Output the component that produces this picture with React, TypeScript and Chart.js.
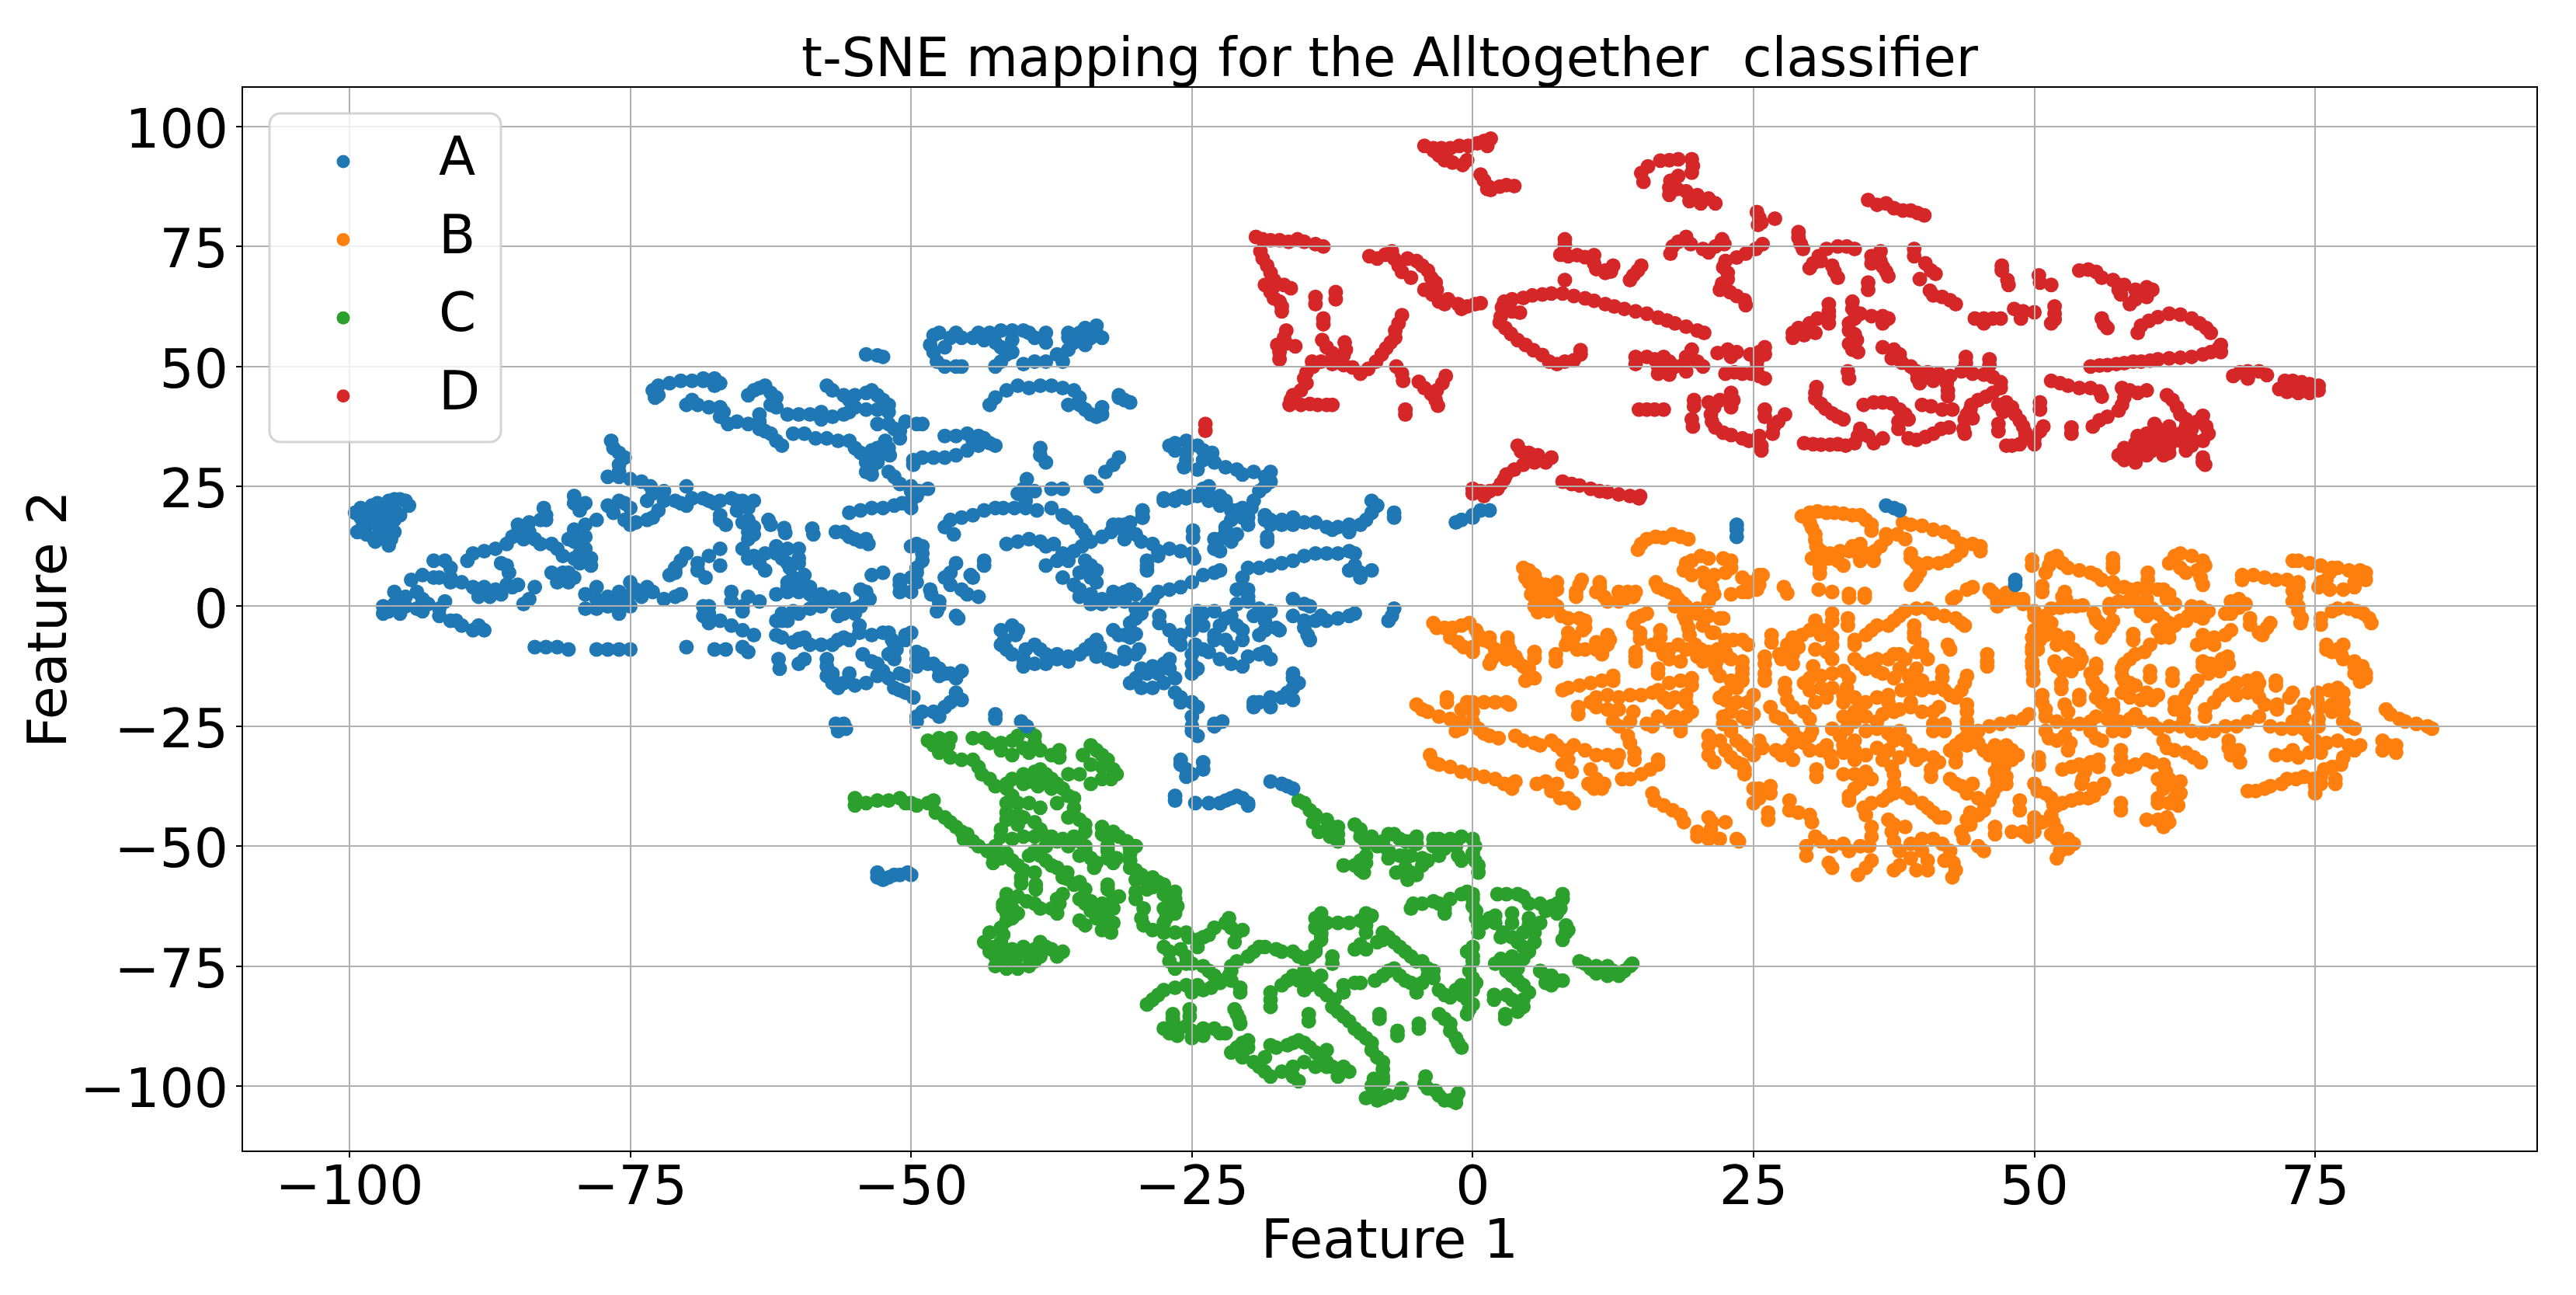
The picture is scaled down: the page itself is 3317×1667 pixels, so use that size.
import { useEffect, useRef } from "react";
import { Chart, registerables } from "chart.js";

Chart.register(...registerables);

const seriesNames = ["A", "B", "C", "D"];
const seriesColors = ["#1f77b4", "#ff7f0e", "#2ca02c", "#d62728"];
const xTickValues = [-100, -75, -50, -25, 0, 25, 50, 75];
const yTickValues = [-100, -75, -50, -25, 0, 25, 50, 75, 100];

const pointsA = [
  [-97.5,21.5],[-96.5,22],[-96,22.3],[-95.5,22.3],[-95,22],[-94.7,21],[-95.5,19],[-99,20.5],[-99.5,19.5],[-98.5,20],[-98,19],[-99,18.5],[-98,17.5],[-97,18.5],[-96.5,19.5],[-96.7,17],[-97.3,15.5],[-96,15.5],[-99.3,15.5],[-98.5,15],[-96.3,14],[-96.5,12.7],[-97.8,14],[-97.7,13.5],
  [-98.5,18],[-97.5,17],[-97,20],[-96,20.5],[-98,21],[-97,14.5],[-98.8,16.8],[-96,18],
  [-76.7,34.5],[-76.5,33],[-76,32],[-75.5,31],[-76,29.5],[-76,28],[-77,27],[-76,27],[-75,26.5],[-74,26],[-73.2,25],
  [-72.8,43.5],[-73,45],[-72.5,46],[-71.5,46.5],[-70.5,47],[-69.5,47],[-68.5,47.5],[-67.5,47.5],[-67,46.5],[-67.5,46],[-68.5,47],[-72.5,44],
  [-70,42],[-69.5,43],[-69,42],[-68,41.5],[-67,41.5],[-66.7,40.5],[-67,39.5],[-66.3,38],
  [-65.5,38.5],[-64.5,38],[-63.5,37],[-63,36.5],[-62,34.5],[-61.5,33.5],[-62.5,36],
  [-64.5,44],[-64,45],[-63.5,45.5],[-63,46],[-62.5,44.5],[-62,43.5],
  [-63.5,40],[-62.5,42],[-62,41.5],[-61,40],[-60,40],[-59,40],[-58,40.5],[-63.5,38.5],
  [-60.5,36],[-59.5,36],[-58.5,35],[-57.5,35],[-56.5,34.5],[-55.5,34.5],[-55,33],[-54.5,32],[-53.5,32.5],[-53,31],[-54,30],[-53.5,29],[-53,30],[-52.5,33],[-52.3,34.5],[-53,33],[-54,28],[-53.5,27.5],
  [-57.5,46],[-57,45],[-56,44],[-55.5,43],
  [-55,44],[-54,44.5],[-53.5,45],[-53,44],[-52.5,43],[-52,42],[-52,40.5],[-53,41],[-54,41],[-55,41.5],[-55.5,40.5],[-56,40],[-57,39.5],[-58,39],[-53,38],[-52,38],[-51.5,37],[-51,36.5],[-51,35],
  [-50.5,38.5],[-49.5,38],[-49,38],[-52,33],[-51.9,31.5],
  [-49.8,29.5],[-49.8,30.5],[-49,31],[-48,31],[-47,31],[-46,31.5],[-45,32.5],[-44.5,34.5],[-43.5,35],[-43,34],[-42.5,33.5],[-44,33.5],
  [-52,28],[-51.5,27],[-51,25.5],[-50,25],[-49.5,24],[-48.5,24.5],
  [-48,56.5],[-47.5,57],[-46.5,56],[-45.5,56],[-44.5,56],[-43.5,55.5],[-43,57],[-42,57.5],[-41,57.5],[-40,57.5],[-48.3,54.5],[-48,53],[-47.7,51],[-47,50],[-46,50],[-45.5,50],[-42.5,50],[-42,51],[-41.5,52.5],[-42,54],[-42.5,55],
  [-44,57],[-46,57],[-47,54],[-41,55.5],[-41,53],[-38,57],[-36,56],
  [-54,52.5],[-53,52.3],[-52.5,52],
  [-43,42],[-42.5,43.5],[-41.5,45],[-40.5,46],[-39.5,45.5],[-38.5,46],[-37.5,46],[-36.5,45.5],[-35.5,45],[-35,43.5],
  [-33.5,58.5],[-34.5,58],[-35,57],[-35.5,55],[-36,53.5],[-37,52.5],[-36.5,51],[-33.5,57],[-38,51],[-39,51],[-40,50.5],[-39.5,57],[-39,56],[-38,55],[-33,56],
  [-34,56],[-34.5,54.5],[-36,57],
  [-36,42],[-35,42],[-34.5,41],[-34,40],[-33.5,39.5],[-33,40],[-31.5,44],[-31,43],[-30.5,42.5],[-33,41.5],[-31.5,43.5],
  [-38.5,33],[-38.5,31.5],[-38,30],[-47,35.5],[-46,35.5],[-45,36],[-44,35.5],
  [-27,33.5],[-26.5,34],[-25.5,34.5],[-24.5,33.5],[-24,32.5],[-23.2,32],[-26.5,32.5],[-25.5,32],
  [-25.5,30.5],[-24,30.5],[-23,30],[-22,29],[-21,28.5],[-20.5,27.5],[-19.5,28],[-25.7,29],[-24.5,28.5],
  [-18.5,27],[-18,28],[-18,26],[-18.5,25],[-19,24],[-19.5,22],[-19.7,20.5],
  [-31.5,31],[-32,29.5],[-32.7,28],[-34,26],[-33.5,25],
  [-27.5,22],[-26.5,22],[-25.5,22.5],[-24.5,23],[-24,24.5],[-23.5,25],
  [-22.5,23],[-22,21.5],[-21.5,20],[-21,19],[-20.5,20.5],[-20,18.5],
  [-18.5,19],[-18,18],[-17,18],[-16,18.5],[-15,17.5],[-14,17.5],[-13,16.5],[-12,16.5],[-11,17],[-11,15.5],
  [-9,22],[-8.5,21],[-9,19.5],[-9.5,18],[-10,17],[-7,19.5],[-7,18.5],
  [-1.5,17.5],[-1,18],[0,18.5],[0.7,20],[1.5,20],[0,19],[-29.4,20],[-29.4,18.5],[-32,17],[-31,17],[-31,15.5],
  [-55.5,19.5],[-54.5,20],[-53.5,20.5],[-52.5,20.5],[-51.5,21],[-50.8,21.5],[-50,22],[-49.5,23],[-49.3,24],[-50,24],[-50,20.5],
  [-47,16.5],[-46.5,18],[-45.5,18.5],[-44.5,19],[-43.5,20],[-42.5,20.5],[-46.2,15],
  [-41.8,20.5],[-40.8,20.5],[-39.8,20.5],[-38.8,20],[-39.8,22],[-40.5,23.5],[-40,24.5],[-39.7,26.5],[-39,24],
  [-37.5,24.5],[-36.5,24.5],[-37.5,20.5],[-36.5,19],[-36.2,18.5],[-35.3,17.5],[-34.8,16],[-34.5,15],[-29.4,19.8],[-29.4,18.5],
  [-41.5,13],[-40.5,13.5],[-39.5,14],[-38.5,13.5],[-38,12.5],[-37.3,13],
  [-38,8.5],[-37,9.5],[-36,9.5],[-36.5,11],[-35.5,11.5],[-34.8,12.5],[-34,13.5],[-33,14.5],[-32.2,15.5],[-31,16.5],[-31.5,17],[-30.5,17.5],[-31,14],[-30,15],[-29.5,13.5],[-28.5,13],[-28,11.5],[-27,12],[-26,11.5],[-25,11],[-24.8,10],[-28,10.5],[-29,9.5],[-29,8.5],[-29,7.5],
  [-34.5,9.5],[-34,8.5],[-33.5,7.5],
  [-36.5,6],[-35,7],[-34,6],[-33.5,5],[-35.5,4.5],[-35,3.5],[-35,2],[-34,2.5],[-33,1.5],[-32,3],[-31,3],[-30.5,3.5],[-30,2.5],[-34,0.5],[-33,0.5],[-32,1],[-31,1],
  [-29,0.5],[-28.5,1.5],[-28,3],[-27,3.5],[-26,4],[-25,5],[-24,6.5],[-23,7],[-22.5,7.5],[-30,-0.5],
  [-30.5,-3.5],[-30,-2.5],[-29.5,-1.5],[-27.9,-2],[-27.9,-3.5],
  [-27,-5],[-26.5,-7],[-26,-6],[-26,-8],[-25,-3],[-25,-5],[-24.5,-1],[-24,-1.5],[-24,-4],[-24.7,-8],[-24,-9],[-23.5,-9.5],[-23,-7],[-23,-6],
  [-25,-10],[-25,-12],[-25,-14],[-24.5,-13],
  [-27,-11],[-27.5,-12],[-27,-13],[-28,-14],[-29,-14],[-30,-15],[-30.5,-16],[-29.5,-17],[-28.5,-17],[-27.5,-16],[-26.5,-15],[-29.5,-13],[-28.5,-12.5],
  [-22.5,-11],[-21.5,-12],[-20.5,-12.5],[-20,-10.5],[-19,-10],[-18.5,-9.5],[-18,-11],
  [-21,3.5],[-20,3.5],[-20,2],[-20,1],[-21,0.5],[-21.5,-2],[-21,-4],[-20.5,-5],[-20.5,-7],[-19.5,-2],[-19,-0.5],[-18.5,-3],[-19,-6],[-18.5,-5],[-18,-1],[-22,-2.5],[-22.5,-4],[-23,-1],[-22,-7],[-21.5,-8.5],[-17.5,-4.5],
  [-16,1.5],[-15,0.5],[-14.5,0],[-16,-2],[-15,-3],[-14,-3],[-13.5,-2],[-15,-4.5],[-13,-3],[-12,-2.5],[-11,-2],[-10.5,-1.5],[-14.7,-6],[-14.5,-7],[-17.2,-5],
  [-7,-0.5],[-7.2,-2],[-7.5,-3],
  [-20.5,6],[-20,8],[-19,8],[-18,8.5],[-17,9],[-16,9.5],[-15,10.5],[-14,11],[-13,11],[-12,11],[-11,11.5],[-10.5,11],
  [-18.5,18],[-18,17],[-17,17],[-16,17],[-12.5,16],[-11,16],
  [-11,7.5],[-10.5,8.5],[-10,7],[-9,7.5],[-10,6],
  [-22.5,21],[-22,22],[-21,20],[-20.5,18.5],[-20,17],[-21.5,18],[-22,16.5],[-22,15.5],[-22.5,14],[-21.5,13.5],[-23,14],[-21,15],[-23,12],[-22.5,11.5],
  [-24.9,15.8],[-24.9,14.3],[-18.3,14.5],[-18.3,13.5],
  [-27.5,22.5],[-26.5,22.5],[-26,23],[-25,23],[-24,24],[-23.5,23],[-23.5,22],
  [-50,12.5],[-49.5,13],[-49,12.5],[-49,11],[-49,9.5],[-49.5,8],[-49.5,7],[-50,6],[-51,5.5],[-51,4.5],[-51,3],[-50,3],[-49.5,5],
  [-53.5,6.5],[-52.5,7],[-48.3,3.5],[-48.2,2.5],[-47.5,1],[-47.5,0],[-47.7,-1],[-46,-2],[-45.8,-2.5],
  [-46,9],[-46.5,7],[-47,6],[-46.5,4.5],[-45.5,3.5],[-45,2.5],[-44,2],[-44.7,6.5],[-44.5,6],[-43.5,9.5],[-43.5,8.5],
  [-54.5,3.5],[-54,2.5],[-53.7,1.5],
  [-61,5],[-60.5,6],[-60,5.5],[-61,4],[-60,3],[-59,2.5],[-58.5,1.5],[-58,0.5],[-57,1],[-56,0],[-56,1.5],[-55,-0.5],[-56,-1.5],[-56.5,-2],[-55,-1.5],[-59,-0.5],[-60,-1.5],[-61.5,-1.5],[-61.5,-3],
  [-56.7,15.5],[-56,15.5],[-55.5,14.5],[-55,14],[-54.5,13.5],[-54,14],[-53.8,13],[-61.3,16.3],[-61.2,15.3],[-58.8,16.2],[-58.7,15],
  [-62,12.5],[-61.5,11.5],[-61.5,10],[-61,9],[-60.8,8],
  [-54.6,-4],[-54.6,-5.5],[-61.5,-6.5],[-60.5,-7.5],[-60,-6.8],[-59.5,-6.5],[-57,-8],[-56.5,-7],[-56,-6.5],[-55.5,-7],
  [-61.8,-11],[-61.7,-13],[-59.5,-11],[-60,-12],
  [-53.5,-6],[-52.5,-5.5],[-52,-5.5],[-51.7,-7],[-51.5,-8],[-51.3,-9],[-50.5,-7],[-50,-5.5],[-50.5,-6],[-52,-10],[-51.5,-11],
  [-57.5,-11],[-57.5,-12.5],[-57,-14],[-57,-15],[-57.5,-14.5],[-57,-16],[-56.5,-17],[-56,-16],[-55,-16.5],[-54,-16],[-55.5,-14],
  [-54.3,-10],[-53.5,-11.5],[-53,-12],[-52.5,-13.5],[-53,-14.5],[-52,-15],[-51,-14],[-50.5,-14.5],
  [-51.5,-17],[-51,-17.5],[-50.5,-18],[-49.8,-19],
  [-49.5,-9.5],[-49.5,-11],[-49,-10],[-48.5,-12],[-49.5,-12.5],[-48,-12],[-47.5,-13],[-47,-14],[-47.5,-14.5],[-46.5,-14],[-45.5,-13.5],[-46,-15],
  [-49.5,-24],[-49.5,-23],[-49,-22],[-48,-22],[-47.5,-23],[-47,-21],[-46.5,-20],[-45.5,-19.5],[-46,-19],[-46,-18],
  [-56.7,-24.5],[-56,-24.5],[-55.8,-25.5],[-56.5,-26],[-42.5,-22.5],[-42.5,-23.5],[-40.2,-24],[-39.7,-25],
  [-42,-5],[-41,-4],[-40.5,-5],[-40.7,-6],[-41.7,-7],[-42,-8],[-41.5,-9],[-41,-10],[-40,-11],[-39.8,-9],[-39,-8],[-38.5,-9],[-38,-10],[-37,-11],[-37,-10],[-36,-10.5],[-35,-10],[-34.5,-9],[-34,-8],[-33.5,-7],[-33.2,-8.5],[-33.5,-10.5],[-32.5,-11],[-32,-11.5],[-31,-11],[-31,-9.5],[-30,-10],[-29.7,-9],[-36,-11.5],[-39,-12],[-40,-12.5],[-38,-12],
  [-32,-5],[-31.5,-6],[-31,-6],[-30.5,-6.5],[-30,-5.8],
  [-16,-14],[-16,-15],[-15.5,-16],[-16,-17],[-16.5,-18],[-17,-19],[-18,-19],[-19,-20],[-19.5,-21],[-19.5,-20],[-18,-21],[-16,-19.5],
  [-26.5,-18],[-26,-19],[-26,-20],[-25,-20],[-24.5,-21],[-25,-23],[-25,-25],[-25,-26],[-24.5,-27],[-23,-25],[-23,-24.5],[-22.3,-24],
  [-26,-32],[-26,-33],[-25.5,-34],[-25,-35],[-24,-32.5],[-24,-34],[-25.5,-35.5],
  [-26.5,-39.5],[-26.5,-40.5],[-24.7,-41],[-23.5,-41],[-22.5,-41],[-22,-40.5],[-21.5,-40],[-21,-39.5],[-20.5,-40],[-20,-41],[-20,-41.5],
  [-18,-36.5],[-17,-37],[-16.5,-37.5],[-16,-38],
  [-53,-56.5],[-52,-56.5],[-51,-56],[-50,-56],[-52.5,-57],[-51.5,-56],[-53,-55.5],[-50.3,-55.5],
  [36.8,21],[37.5,20.5],[38,20],[23.5,17],[23.5,16],[23.5,14.5],[48.3,5.5],[48.3,4.5],
  [-80,23],[-80,21.5],[-79,21.5],[-79.5,20],
  [-77,21],[-76,22],[-75.5,21.5],[-75,20.5],[-76.5,19.5],[-75.5,18],[-75,17],[-74.5,17.5],
  [-73.5,22],[-73,23.5],[-72,24],[-72,22],[-71,22],[-72.5,20],[-73,18.5],[-73.5,18],[-70.5,21.5],
  [-70,25],[-69.5,22.5],[-70,21],[-68.5,22.5],[-68,22],[-67.5,21.5],[-67,22],[-66,22.5],[-65.5,22],[-65,22],[-64,22],[-64.5,20.5],[-65.5,20],[-67,19],[-67,18],[-66.5,17],[-65,17.5],[-64.5,18],[-64.5,15.5],[-64,16.5],
  [-62.7,18],[-62.5,17],
  [-89.5,9.5],[-89,11],[-88,11.5],[-87,12],[-86,13],[-85.5,14.5],[-84.5,14],[-85,15.5],[-85,17],[-84,17.5],[-83,18],[-82.5,19],[-82.5,18],[-82.7,20.5],
  [-84,15.5],[-83.5,14],[-83,13],[-82,13],[-81.5,12],[-81,10.5],[-80,10],[-79.5,11],[-79,12],[-80.5,14],[-80,13.5],[-79.5,9],[-78.5,10],
  [-80,16],[-80,15],[-79,17],[-78,18],[-79,14.5],[-78.8,9.5],[-78.5,8.5],
  [-82,7],[-81.5,6],[-81,7],[-80.5,7],[-80,6],[-81.5,5],[-80.5,5],[-85.8,7],[-86,8.5],[-86.5,9],
  [-92.5,9.5],[-91.5,9.5],[-91,8],[-91,6],[-91,5],[-94.5,5.5],[-93.5,6.5],[-92.5,6],[-92,6],
  [-90,5],[-89,4],[-88,4],[-87,3.5],[-86,4.5],[-85.5,4],[-86.5,2.5],[-87.5,2],[-88.5,2],[-85,4.5],[-83.5,4],[-84,1.5],[-84.5,0.5],
  [-79,2.5],[-78,4],[-78,1.5],[-77,2],[-76,3],[-76,1],[-75,2.5],[-75,5],[-74.5,3.5],[-74,2],[-73.5,4],[-77,0],[-75,0],[-78,-0.5],[-76,-1.5],[-79,-0.5],[-73,3],
  [-72,1.5],[-71,2],[-70.5,2.5],
  [-70,11],[-70.5,9.5],[-71,8],[-71,7],[-71.5,6.5],
  [-67,12],[-68,10.5],[-69,9],[-69,7.5],[-67,8.5],[-68.3,6],
  [-65,12],[-64.5,14],[-64,15],[-64.5,10],[-64,10.5],[-63,11],[-62,11],[-61,12],[-60,12],[-60,10],[-60,9],[-63.5,9],[-63,7.5],
  [-66,3],[-66,1],[-65,0],[-65,-1],[-64.5,2],[-63.5,1],[-68,0],[-68,-1.5],
  [-62,2.5],[-61,3],[-60.5,4],[-60,5],[-59.5,6.5],[-59,4],[-58,2.5],[-57,2],[-54.5,0],[-58,0],[-54,3],[-54,1.5],
  [-97,0],[-96.5,-1],[-96,0.5],[-95.5,-1.5],[-95,0],[-94,-0.5],[-93.5,-1],[-93.5,1.5],[-95,2],[-96,3],[-94,3],[-93,0.5],[-92,-2],[-91,-3],[-90.5,-3],[-90,-4],[-89,-5],[-88,-5],[-88.5,-4],[-91.5,1],[-92,-0.5],[-97,-1.5],
  [-83.5,-8.5],[-82.5,-8.5],[-81.5,-8.5],[-80.5,-9],[-78,-9],[-77,-9],[-76,-9],[-75,-9],[-70,-8.5],[-67.5,-9],[-66.5,-9],
  [-68.5,0],[-68.5,-2],[-68,-3.5],[-67,-3],[-66,-4],[-65,-5],[-64,-6],[-62,-3],[-61,-3],[-60.5,-1],[-65,-8.5],[-64.5,-9.5],[-62,-6],[-60,-7],[-59,-8],[-58,-8],
];

const pointsB = [
  [14.7,11.8],[15,13],[15.5,14],[16.3,14.5],[17,14.3],[17.8,15],[18.5,14.5],[19.2,14],
  [29.3,18.8],[30,19.5],[30.7,19.8],[31.5,19.5],[32.2,19.5],[33,19.3],[33.8,19],[34.5,19],[35,18],[35.5,17],[35.5,15.8],[30,17.5],[30.2,16.3],[30.5,15],[30.5,13.8],[30.6,12.5],[31,11.5],[31.8,11],[32.7,11.5],[33.5,11.5],[34.3,11],[35,11],[35.8,11.5],[36.3,12.5],[36.8,14],[36.8,15],[37.8,15],[38.5,14],[30.2,10],[31,9.5],[31.7,10],[32.5,9.5],[33,8.5],[30.9,8],[30.9,6.8],[34.5,9.5],[35.7,9.5],[34.5,13],[33.8,12.5],
  [38.3,17.5],[39,17],[40,16.8],[41,16],[42,15.5],[42.8,14.5],[43.5,13],[44.5,13],[45.2,12.5],[45.2,11.5],[43.5,11.5],[43,10.5],[42.3,9.5],[41.5,9],[40.5,9],[39.5,9],[39,10],[39,11],
  [4.5,8],[5,7.5],[5.5,6.5],[4.7,6],[5,5],[5.8,5],[6.5,4.5],[7.5,5],[7.5,3.5],[5.8,3],[5.2,2.5],[6.5,2],[7,1],[6,0.5],[5.5,0],[5.8,-1.2],[6.7,-1],[7.5,0],
  [9.7,5.5],[9.5,4.5],[9.2,3],[9.2,2],[11.3,5],[11.3,4],[11,3],[11.7,2],[12,1],[13,3],[13.8,3],[14.5,3],[14.3,2],[13.5,1.5],[13,1],
  [16.3,5],[16.5,4],[17,3.5],[17.5,3],[18,2.5],[18.3,1.5],[18.7,0.7],[18,0],[19,0],[20,-0.5],
  [19,9],[18.8,7.5],[19.5,9.5],[20.3,10.5],[21,10],[22.3,10],[23,9.5],[23,8],[22.5,7],[21.5,6.5],[20.7,5],[21.3,4],[21.5,2.5],[23,2.5],[24,3],[24.5,3],[25.3,3.5],[25.5,4.5],[24.5,5],[24,6],[25.8,6.5],[25.5,6.5],[25,5],[20.5,7],[19.5,6.5],[21,1.5],[21,1],
  [27.7,4],[28,2.7],[30.8,3.5],[32,3],[33.5,2.6],[33.5,1.8],[34.9,2.6],[34.9,1.8],[39.8,7.2],[39.5,6],[39.2,5],[39,4.5],
  [49.8,9.7],[49.8,8.5],[51.5,10],[51.3,8.5],[51,7],[52,10.5],[52.5,9],[53,8],[54,7.5],[55,7],[55.5,6.5],[56,5.5],[57,5],[57.3,4],[58,4],[57,10],[57,9],[57,8],[60.1,7],[60.1,5.5],
  [62,9],[62.5,10.5],[63,11],[64,10.5],[65,9.5],[65.2,8.5],[64.5,7.5],[63.5,7],[63,8],[64.8,6],[65,4.5],
  [68.5,6.5],[68.5,5.5],[69.5,6.5],[70.5,6],[71.5,5.5],[72.5,5.5],[73.5,5],[73.5,4],[73,3.2],[73.3,2],[73,1],
  [73,9.5],[73.5,9.5],[74.5,9],[75.5,8.5],[76.5,8],[77,8],[78,7.5],[79,7.5],[79.5,7],[79.5,5.5],[78.5,5],[78.5,4],[76.3,7],[76,5.5],[75.5,5],[75.3,4],[76.3,3.5],[77.5,3.5],
  [58.5,3.5],[59.2,3.7],[60,3.7],[61,3.5],[61.5,3.5],[62,2.5],[61.8,1.5],[62.5,0.5],[60,1.5],[59,1],[58.3,1],[56.7,0.5],[56.7,-0.5],[57.5,1],
  [43,2],[44,3.5],[44.5,4],[42.7,1.5],[46,3.5],[46.3,2.8],[47.5,2.8],[48,2],[47.5,1],[46.7,1],[46.7,0],[48.5,1.5],[49,1.5],[49,0.5],[50.7,4.2],[50.7,3],[52.7,3],[52.5,2],[52.8,1.5],
  [51.5,-0.5],[52.3,-0.3],[53,0],[53.7,0],[54.3,0.2],
  [50,-1],[50,-2],[51,-2],[51.5,-3.5],[50.5,-4],[50,-5],[49.8,-6.5],[50.5,-7],[51,-6],[52,-6],[52.5,-7],[53,-6.5],[49.8,-8.5],[49.8,-9.5],[50.3,-9],[49.8,-11.5],[49.8,-12.5],[52,-8],[53,-8],[53.5,-9],[54,-10],[54.2,-11],[54,-12],[53,-12],[52,-12.5],[51.8,-11.5],[53.3,-13.5],[52.5,-13.5],[55.5,-12],[55.5,-13],
  [55.3,-1.5],[55.5,-2.8],[55.8,-3.5],[57,-3],[56.7,-4.2],[56.3,-5.5],[56,-6.5],[58.8,-5.8],[58.8,-7],[60.3,-8],[59.8,-9.5],[59,-10],[58.5,-11],[58,-12],[57.8,-13],[57.8,-14.5],[58,-15.5],[58.5,-16],[59,-16.5],
  [60.3,-13.5],[60.3,-14.8],[62.3,-14],[62.3,-15.5],
  [59.5,-1],[60,-2],[60.5,-0.5],[61,-1.5],[61.5,-2.5],[62,-3.5],[62,-5],[62,-6.5],[61.3,-6.5],[61,-5],[62.5,-4],[63,-3],[63.5,-3],[63.7,-2],[64.5,-2],[65,-2.5],[65.5,-1],[64.8,-0.2],[64,0],
  [65,-6],[65,-7.5],[64.5,-8],[66,-8],[66,-6.5],[67,-6],[67.5,-5],[67.5,1],[68.2,1.5],[68.8,0.5],[68.2,-0.3],[67.5,-1.5],[67,-1.5],
  [69.2,-2.5],[69.2,-3.8],[71,-3.5],[70.7,-4.5],[70,-5.5],[70.3,-6],[73.5,0],[73.5,-1],[73.8,-2.5],[73.7,-3.5],[75.5,-2.5],[75.5,-3.8],[76.5,-1],[77,-0.5],[78,-0.5],[78.7,-1],[79.3,-1.5],[79.8,-2.5],[80,-3.5],
  [76,-8],[76,-9],[76.5,-9.5],[77,-9],[77.5,-8],[77.3,-10],[77.5,-11],[78.5,-11.5],[78.5,-12.5],[79.2,-12.5],[79.5,-14],[79.5,-15],[79,-15.7],[78.5,-14],
  [65,-11.5],[65,-12.5],[65.7,-12],[66.7,-11],[67.2,-10.5],[67.3,-12],[66.5,-13.5],[65.5,-14],
  [64.5,-15.5],[64,-17],[63.5,-18.5],[63.3,-19.5],[62.5,-20],[62.5,-21.5],
  [66,-20],[66.5,-18.5],[67,-17.5],[67.5,-17],[68,-16],[69,-15.5],[69.8,-15],[70,-16],[69.8,-17.5],[69,-18],[68,-18.5],[70,-19],[70.5,-20.5],[71.5,-16.5],[71.5,-15.5],
  [57.8,-18],[58.5,-19],[59.5,-19.5],[60.5,-19.5],[61,-18.5],[60,-18],
  [55,-14],[55.2,-15.5],[55.5,-16.5],[56,-17.5],[55.5,-19],[56,-20],[56.5,-21],[54,-18.5],[54,-19.5],[52.7,-20.5],[53,-22],[50.7,-18.5],[50.7,-20],[51,-21.5],[57,-20.5],[57,-21.5],
  [49.5,-22.5],[49,-23.5],[48,-24],[47,-24.5],[46,-25],[45,-26],[44,-27],[43.5,-28],[43,-29],[42.5,-30],[44,-29],[45,-28.5],[45.5,-30],[46.5,-29],[46,-31],[47.5,-29],[48,-30],[48.5,-31],
  [51,-23],[52,-24],[53,-24.5],[54,-24.5],[55,-24],[55.5,-23],[56.5,-23.5],[57.5,-24],[58.5,-23.5],[59,-22.5],[59.5,-24],[60.5,-24.5],[61,-25.5],[62,-25],[63,-25],[64,-26],[65,-26.5],[66,-26],[67,-25],[68,-25],[69,-24],[70,-23],[71,-25],[72,-25.5],[73,-25.5],
  [51,-26],[51.3,-27.5],[52,-28],[52.7,-27],[53.2,-28.5],[53,-30],[55,-26],[55.5,-27.5],[56,-28],[57,-26],[58,-26],
  [61.5,-28],[61.8,-29.5],[62.5,-30],[63.5,-30.5],[64.2,-31.5],[64.8,-32.5],
  [67.3,-28],[67.3,-29.5],[67.5,-31],[68,-31],[68.2,-30],[68.3,-32.5],
  [63.3,-22],[63.3,-23.5],[65.2,-21.5],[65.2,-23],[71.6,-20.5],[71.6,-21.5],[73,-18],[72.7,-19],[74,-20.5],[73.5,-22],[74,-23],[73,-24],
  [75.2,-18],[75.2,-19.5],[76.2,-17.5],[77,-17],[77.5,-18],[77,-19],[77.5,-20],[76.5,-20.5],[75.5,-21],[76.5,-22],[77.5,-22],[75.3,-23.5],[75.3,-25],[77.5,-24],[78,-25],[78.5,-25.5],
  [74,-25.5],[74.5,-27],[75,-28],[76,-28.5],[77,-28],[78,-29],[78.5,-30],[79,-29],[73,-30],[72.5,-31],[71.5,-31],[73.5,-31.5],[74.5,-30.5],[75.5,-30.5],
  [81,-28],[81.5,-29],[82.2,-29],[82.2,-30.5],[81,-30],
  [81.3,-21.5],[81.7,-22.5],[82.5,-23.5],[83,-24],[84,-24.5],[85,-25],[85.4,-25.5],
  [77.5,-31.5],[77.3,-33],[76.5,-33.5],[75.8,-34],[75.5,-35.5],[75.5,-37],
  [69,-38.5],[69.7,-38.5],[70.5,-38],[71,-37.5],[72,-37],[72.5,-36],[73.3,-36],[74,-35.5],[74.8,-36],[75,-37.5],[75,-39],[76.8,-36],[76.8,-37],
  [61,-36],[62,-36.5],[63,-36.5],[61.5,-38],[62.7,-38],[63,-39],[62.5,-40],[61,-40],[61,-41],[62,-41],[62.8,-41.5],
  [60,-44.5],[61,-44.5],[61.8,-44],[62,-45],[61.5,-46],[57.7,-41],[57.7,-42.5],
  [50,-37],[50.3,-38.5],[51,-39],[51.5,-40],[51.7,-41.5],[52.5,-41],[53.3,-40.5],[54,-40],[54.8,-40],[55.3,-39.5],[55.3,-38],[56,-38],[56.2,-37],[54.2,-37],[54.3,-36],[52,-41.5],
  [50,-44],[50,-45],[50.7,-45],[51.7,-45],[51.5,-43.5],[52,-46.5],[51.5,-47.5],[52,-48.5],[53,-48.5],[53.5,-49.5],[53,-50.5],[52.3,-51],[52,-52.5],
  [46.5,-46],[46.5,-47.5],[48,-47],[49,-47],[49.5,-48],[50,-47],
  [44.3,-43],[44,-44.5],[44.3,-45.5],[45,-43.5],[45.5,-42.5],[45.5,-41],[45,-40],[44,-39],[43.5,-37.5],[43,-37],[42.5,-36],[44.5,-37],[46,-40.5],[46.3,-39],
  [47.5,-35.5],[46.7,-36],[46.7,-37.5],[47.5,-37],[46.5,-34.5],[48.7,-40.5],[48.7,-42.5],
  [47,-31.5],[46.8,-33],[47.3,-33.5],[48,-32],[48.5,-31],[50.4,-31.5],[50.4,-33],
  [52.5,-34],[53.3,-33.5],[54,-33],[55,-32.5],[55.7,-32],[55.7,-33.5],[54.5,-34.5],[57.5,-34],[58.5,-33.5],[59,-33],[60,-32],[60.5,-32.5],[61.5,-33],[61.7,-34.5],[62,-36],[57.7,-30],[57.7,-31.5],
  [49.9,-14],[49.9,-15.5],[52.4,-16],[52.4,-17.2],
  [-3.5,-3.5],[-3.2,-4.5],[-2.5,-4.5],[-1.8,-4.5],[-1,-4],[-0.3,-3.5],[0.3,-5],[0.5,-6],[1,-7],[1.5,-7.5],[1.5,-6.5],[-2,-6.5],[-1.3,-7.5],[-0.8,-8.5],[0,-8.5],[0,-9.5],
  [3.1,-6.5],[3.1,-7.5],[3.3,-9],[2,-9],[2.5,-10],[1.7,-11],[1.5,-12],[3,-11],[3.8,-10.5],[4,-11.5],[4.5,-12.5],[5,-13],[5,-14.5],[4.7,-15.5],[5.5,-15],[5.5,-9.5],[5.5,-10.8],[7.4,-10],[7.4,-11.5],
  [7.9,-2],[8.5,-2.5],[9.5,-2.5],[10,-3],[10,-4.5],[9.8,-5],[8.5,-5.5],[9,-6.5],[8.5,-7],[8.3,-8],[9.3,-9],[10,-9],[11,-7.5],[11,-9],[11.5,-10],[12,-8],[12.2,-7],[12,-6],
  [14.5,-2.5],[15,-2],[15.5,-1.5],[14.3,-3.5],[14.9,-5.5],[14.9,-6.8],[16.7,-5],[16.7,-6.5],[14.5,-9.5],[14.5,-10.5],[14.5,-11.5],[16.5,-13],[16.5,-14],
  [16,-8],[16.7,-8.5],[17.5,-9],[18.3,-8],[19,-9],[19.8,-8],[20.3,-9],[21,-9.5],[21.8,-9],[22.5,-9.5],[22.7,-10.5],[17,-10],[17.5,-11],[18.5,-11.5],[20,-10.5],[20.5,-11.5],[21.7,-11.5],
  [18.8,-2],[19,-3],[20,-1.5],[21,-2],[22,-2.5],[22.3,-2.5],[19.2,-4.5],[19.3,-6],[20.5,-4],[21.3,-5.5],[21.5,-5.5],
  [22.5,-7],[23.2,-7],[24,-7],[24.5,-8],[23,-11],[24,-11.5],[24,-13],[24,-14],[23,-15.5],[24,-15.5],[23.5,-17],[22.5,-18],[22.5,-19.5],[21.6,-13],[22,-14.5],
  [26,-14],[26,-15.5],[26.6,-6],[26.6,-7.5],[26,-10.5],[26,-12],[27.3,-10],[27.5,-11],[28.5,-10],[28.5,-12],
  [28,-8],[28.5,-6.5],[29.3,-6],[30,-5],[30.5,-3],[30.7,-4.5],[31,-6],[31.5,-5],[32,-6.5],[32,-8],[29,-8.5],[30.5,-9],[31.5,-9.5],[32,-11],[30.3,-12.5],[32,-1.5],[32,-3],[33.4,-2.5],[33.4,-4],
  [34,-7],[34,-8],[35,-6],[35.5,-5],[36,-4],[37,-4],[37.5,-3],[38,-2],[38.5,-1],[39.5,-0.5],[40.5,-0.5],[41,-1.5],[42,-2],[43,-2.5],[43.5,-3.5],[43.8,-4],[39.3,-4],[39.3,-5.5],[39.3,-6.5],
  [40,-8],[40,-9.5],[42.3,-8],[42.5,-9],[45.8,-10],[45.8,-11.5],[45.8,-12.5],
  [34,-11],[34.5,-12],[35,-13],[35.5,-11.5],[36,-11],[37,-11],[37.5,-10],[38,-10],[38.5,-11],[39.5,-9.5],[40.5,-11],[39.5,-13],[38,-13],[38.8,-14.5],[37.5,-15],[36.5,-14],[36,-13.5],[39,-15.5],[40,-15.5],
  [41.8,-13.5],[41.8,-15],[44,-14.5],[43.8,-16],[43.5,-17.5],
  [38.2,-17.5],[39,-17.5],[40,-17.5],[41,-17],[42,-17.5],[42.5,-18.5],[43,-19],
  [29.5,-16],[30,-15],[31,-14.5],[32,-14],[33,-13.5],[33.5,-15],[33.3,-17],[33,-18.5],[32,-17],[31,-17],[30,-17.5],[31.5,-19],[30.5,-20],[33,-20],[34,-19],[34.5,-21],[35,-20],[36,-19],[37,-18.5],[37,-20],[34,-22],[33,-23],[34,-24],[35,-23],[36,-24],[36.5,-22.5],[37.5,-22],[33.3,-25.5],[35,-26],[36,-25.5],[32,-25.5],[32.7,-27],[34,-28],[33,-29],[33,-30.5],
  [27.8,-16],[27.8,-17.5],[28,-19.5],[28.5,-21],[29.5,-22],[30,-23.5],
  [22,-19],[23.5,-20],[24.5,-20],[25,-18.5],[23,-22],[24,-23],[22.3,-23],[22.3,-24.5],[23,-25],[24.5,-24],[25,-22.5],[26.5,-21],[27,-23],[27.5,-23.5],
  [39,-21],[40,-22],[41,-22],[41.5,-21],[39,-20],[38,-21.5],[44,-20.5],[44,-22],[44,-24],[44,-25],[41,-24.5],[41,-26],[42,-24.5],[42,-26],
  [28,-25],[28.5,-26],[29,-27.5],[30,-27],[30.2,-26],[28.5,-28.5],
  [21,-27],[21,-29],[21,-31],[21.5,-32.5],[22,-28],[22.5,-30],[23,-26],[23.5,-28],[24,-29],[24.5,-30],[25.5,-28],[25.8,-29.5],[25,-31],[23,-31.5],[23.5,-32.5],[24,-33],[24.2,-34],[24.2,-35],
  [27,-30],[27.5,-31],[28,-30],[28.5,-32],[29.5,-28.5],[30,-30],[31,-30],[31.5,-29],[31.8,-31],[32,-32.5],
  [34,-30],[34,-32],[35,-31],[36,-29.5],[37,-30],[37.5,-28],[37,-26.5],[38,-26],[38.5,-28],[39,-30],[40,-31],[41,-31.5],[41.5,-32.5],[39.5,-32],[38,-31.5],[36.5,-32],[37.3,-33.5],[37.5,-35],[37.5,-37],[37.5,-39],[43,-31],[43,-32.5],
  [30.6,-34],[30.6,-35.5],[33,-35],[34,-35],[35,-34.5],[35.5,-36],[34.5,-37],[34,-38],[40.8,-34],[40.8,-35.5],
  [25,-38],[25.5,-38],[26.5,-37.5],[26.5,-39],[25.5,-40],[25,-41],[33.5,-39.5],[33.5,-40.5],
  [34.8,-42],[35,-43.5],[35.5,-41],[36.5,-40.5],[37,-39.5],[37.5,-38.5],[38.5,-39],[39,-40],[40,-41],[40.5,-42],[41,-43],[41.5,-44],[42,-44],
  [28.2,-40.5],[28.2,-42.5],[29,-43],[30,-43.5],[30.2,-45],[26.3,-43],[26.3,-44.5],
  [37,-44.5],[37.5,-45.5],[38.5,-46],[35.5,-46],[35.5,-48],
  [29.7,-50],[30.5,-48],[31,-49],[32,-50],[33,-49.5],[33.5,-51],[34.5,-50],[35.3,-50],[29.7,-52],[31.7,-53.5],[32,-54.5],
  [37.3,-47],[37.5,-49],[38,-51],[39,-49.5],[40,-48.5],[41,-48.5],[41.8,-49.5],[42.5,-51],[40,-51],[39,-52.5],[40.5,-53],[42,-53],[38,-54],[37.5,-55],[39.5,-55],[40.5,-55],
  [35.5,-53],[35,-54.5],[34.3,-56],[42.8,-53.5],[43,-55],[42.7,-56.5],[43.5,-47],[43.7,-48.5],[45,-50],[45.5,-51],
  [-3.8,-31],[-3.5,-32.5],[-3,-33],[-2,-33.5],[-1,-34.5],[0,-35],[1,-35.5],[2,-36],[2.8,-37],[3.5,-37],[3.8,-36.5],[3.5,-38],
  [5.7,-37],[6.5,-36.5],[7.5,-37],[7,-38.5],[7.8,-40],[8.5,-40],[9,-41],
  [10.5,-34],[11,-36],[10.3,-37],[10.8,-38],[11.5,-38],[11.7,-37],[14.4,-30.5],[14.4,-32],
  [13.3,-36],[14,-36],[15,-35],[15.8,-34],[16.5,-33],[16.5,-32],
  [16,-39],[16.2,-40.5],[17,-41.5],[17.8,-42.5],[18.5,-43.5],[18.8,-45],
  [21,-44],[21.3,-45],[22.5,-45],[21.2,-46.5],[20,-47],[20,-48],[21,-48.5],[22,-48.5],[23.5,-48.5],[23.7,-49],
  [3.8,-27],[4.5,-28],[5.5,-28.5],[6,-29],[7,-28],[7.5,-29],[8,-30],[8.5,-30],[9,-29],[10,-30],[11,-31],[12,-31],[13,-31],[12.8,-32.5],[8.5,-32],[8,-33],[8.8,-34.5],
  [-5,-20.5],[-4.5,-21.5],[-4,-22],[-3,-23],[-2,-23.5],[-1,-24],[0,-24],[0.5,-25.5],[1,-26.5],[-1,-25.5],[-1.5,-26],[1.5,-27],[2.3,-27.5],[-0.5,-20],[-1,-21.5],[0,-20],[1,-20],[2,-20],[3,-20],[3.3,-20.5],[0,-22],[-2.3,-19],[-2.3,-20],
  [8,-17.5],[8.5,-17],[9.5,-16.5],[10.5,-16],[11.5,-15.5],[12.5,-15.5],[12.5,-14.5],[9.4,-21],[9.4,-22.5],
  [10.5,-20],[11,-19],[12,-18.5],[13,-19],[14,-18.5],[15,-18.5],[16,-18],[17,-19],[18,-19],[19,-18.5],[19,-20],[17.5,-20],[16.5,-17.5],[17.5,-16],[18.5,-15.5],[19.5,-15],[19.5,-16.5],[11,-21],[12,-21.5],[13,-21.5],
  [12.5,-24],[13,-25],[14,-24],[14.3,-22],[15.5,-24.5],[16,-25],[16.5,-23],[17.5,-24],[18,-23],[19,-23],[19.5,-22],[18.5,-25],[18.5,-26],[13.8,-27],[14,-28.5],
];

const pointsC = [
  [-48.5,-28],[-48,-29],[-47.5,-27.5],[-46.5,-27.5],[-46.7,-29],[-47.5,-30.5],
  [-46.5,-31.5],[-45.5,-32],[-44.5,-32],[-44,-33.5],[-43.7,-35],[-43,-36],[-42.5,-37.5],[-41.5,-37],[-41,-36],[-40,-37],[-39.5,-36.5],[-38.7,-37.5],
  [-44.5,-27.5],[-43.5,-27.5],[-43,-28.5],[-42,-28.5],[-42,-30],[-41,-31],[-41,-28],[-40.5,-27],[-39.5,-26],[-39,-27],[-39,-28.5],[-40,-29.5],[-39.5,-30.5],[-38.5,-30],[-37.5,-31],[-36.8,-30],[-36.8,-31.5],
  [-40,-35],[-39,-34.5],[-38.5,-34],[-38,-35],[-37.5,-36],[-37,-37],[-37.5,-38],[-38.5,-37],[-36.5,-38],[-36,-39.5],[-35.5,-40],[-37,-41],[-35.5,-42],[-35.5,-43.5],[-36,-44],[-35,-44.5],[-34.5,-45.5],[-34.5,-47],
  [-41.5,-38],[-41,-39.5],[-41.5,-41],[-40.5,-41],[-39.5,-41],[-38.5,-42],[-41.5,-43],[-41.5,-44.5],[-40.5,-43.5],[-40,-44],[-40.5,-45.5],[-39,-45],[-38.5,-46.5],[-42,-46.5],[-42,-48],[-41,-48.5],[-40,-48],[-39,-48],[-38.3,-47.5],
  [-34,-29],[-33.5,-30],[-33,-31],[-32.5,-32],[-34.7,-31],[-34,-33],[-33,-33.5],[-32,-34],[-31.7,-35],[-32.2,-36],[-33,-36],[-34,-37],[-35,-35],[-36,-35],
  [-55,-40],[-55,-41.5],[-54,-41],[-53,-40.5],[-52,-40.5],[-51,-40],[-50.5,-41],[-50,-41],[-49.5,-41.5],
  [-48.5,-41],[-48,-40.5],[-47.8,-43],[-47,-44],[-46.5,-45],[-46,-46],[-45.5,-47],[-45.3,-48.5],
  [-45,-47.5],[-44.5,-49],[-44,-50],[-43.2,-51],[-42.7,-52],[-42.7,-53.5],
  [-42.5,-50],[-42,-52.5],[-41,-53],[-40.5,-54],[-40,-55],[-39,-55.5],[-38.5,-52],[-38,-53],[-37.5,-54],[-37,-54.5],[-36.5,-55.5],[-36.5,-56.5],[-41.5,-51.5],[-39.5,-52],[-39,-51],[-38,-50],
  [-37.5,-48],[-37,-49],[-36.5,-48.5],[-35.5,-48],[-35,-49],[-34.5,-50],[-34.5,-51],[-35,-52],[-34,-52.5],[-33.5,-53.5],[-33.7,-54.5],[-36,-50],
  [-33,-46],[-33,-47.5],[-32.5,-48.5],[-32,-47],[-31.5,-48],[-32.5,-50],[-32.5,-51],[-32.5,-52.5],[-31.7,-52.5],[-32,-53.5],
  [-30.8,-49],[-30.5,-50.5],[-30,-50],[-30.5,-51.5],[-30.5,-53],[-30.5,-54.5],[-30,-55],[-29.5,-56],[-30,-57],[-29,-57.5],[-28.5,-56.5],[-28,-57.5],[-27.5,-58],
  [-40.2,-56.5],[-40.2,-57.8],[-38.9,-58],[-38.9,-59],[-36.1,-55.5],[-36.1,-56.8],
  [-35.5,-58],[-35,-57.5],[-34.5,-59],[-36.5,-60],[-37,-61],[-36.8,-62],[-32.5,-58],[-32.5,-59],
  [-41.5,-60],[-41.8,-62],[-41,-61],[-40.5,-60.5],[-39.7,-61.5],[-39,-62],[-38.5,-63],[-37.5,-63],[-37,-64],[-41,-63],[-41.5,-64],[-41.8,-62.8],
  [-35,-61],[-34.5,-62],[-34,-61.5],[-33,-62],[-32,-61],[-31.5,-60.5],[-32,-63],[-34,-63.5],[-33.5,-65],[-33,-64],[-32.5,-65],[-32,-66],[-35,-65.5],[-34.5,-66.5],[-33,-67.5],[-32.2,-68],
  [-30,-59.5],[-30,-61],[-29,-59],[-28.5,-58.5],[-27.5,-58.5],[-27.5,-60],[-26.5,-59.5],[-26.5,-61],[-27,-61.5],[-26.3,-62.5],[-27.5,-63],[-27.3,-65],[-27.5,-66],[-26.5,-64],
  [-29.3,-63],[-29.5,-65],[-29.3,-66.5],[-28.5,-67.5],[-27.5,-68],[-26.5,-68],[-25.5,-68],[-25.3,-69],[-24.5,-69.5],[-24,-69],[-23.5,-68.5],[-24.5,-71],
  [-27.5,-71],[-27,-72],[-27,-74],[-26,-71.5],[-25.5,-73],[-25.5,-74.5],[-26.5,-75.5],
  [-23,-67],[-22,-66],[-21.7,-65],[-21.5,-67],[-21,-68],[-21.2,-70],[-20.5,-67.5],
  [-43,-68],[-43.5,-70],[-43,-71],[-43,-72],[-42,-70],[-42.5,-73],[-42,-74],[-42.5,-75],[-41.5,-75.5],[-40.5,-75.5],[-39.5,-75],[-39,-74],[-38.5,-73],[-39,-71.5],[-38,-71],[-38.5,-70],[-37.5,-71.5],[-37,-73],[-36.5,-72],[-40.5,-73],[-41,-71.5],[-41.8,-68.5],[-42,-67],[-41.5,-65.5],[-41,-65],[-40.5,-64],[-40,-71],
  [-41,-73],[-40,-72.5],[-39.5,-73],[-41.5,-72],[-42.5,-71],
  [-25,-74.5],[-24,-75],[-23.5,-76],[-23,-77],[-22.5,-78],
  [-21.7,-77],[-21.5,-76],[-21.5,-75],[-21,-74],[-20,-73],[-19.5,-72],[-19,-71],[-18.5,-71],[-17.5,-71.5],[-17,-72],[-16,-72],[-15.5,-73],[-15,-73.5],[-14.5,-73],[-14,-72],[-14,-71],[-13.5,-69.5],[-13.5,-68.5],
  [-29,-83],[-28.5,-82],[-28,-81],[-27.5,-80],[-26.5,-79.5],[-25.5,-79],[-24.5,-79],[-24,-80],[-23.3,-79.5],[-22.5,-78.5],[-21.5,-78],[-25,-80.5],
  [-20.7,-79.5],[-20.7,-80.5],[-21.2,-84],[-21,-85],[-20.8,-86],[-20.7,-87],[-26.7,-85],[-26.7,-86],[-25.2,-84],[-25.2,-85.5],
  [-27.5,-88],[-27,-89],[-26.5,-87.5],[-25.5,-87.5],[-25,-88.5],[-25,-90],[-24,-88],[-24,-89.5],[-23,-88],[-22.5,-89],[-22,-89],[-26.3,-89.5],
  [-21.5,-93],[-21,-92],[-20.5,-91],[-20,-90.5],[-20,-92],[-20.5,-94],[-19.5,-95],[-18.5,-94],[-18,-91.5],[-17.5,-92],[-16.5,-91.5],[-16,-91],[-15.5,-90.5],[-15,-91],[-14.5,-92],[-14,-93],[-13.5,-94],[-13,-92.5],[-13,-95],
  [-19,-96],[-18.5,-97],[-18,-98],[-17,-97],[-16,-96],[-15,-95],[-14,-96],[-13,-96],[-12.5,-96],[-11.5,-96],[-11,-97],[-12,-98],[-16,-98],[-15.5,-99],
  [-18,-80.5],[-18,-82],[-18,-83.5],[-17,-79],[-16.5,-78],[-16,-77],[-15.5,-78],[-15,-76],[-14.5,-77.5],[-14.5,-79],[-14,-78],[-13.5,-77],[-15,-80],
  [-14.6,-85],[-14.6,-86.5],
  [-13.5,-80],[-13,-81],[-12.3,-82],[-12.5,-83.5],[-12,-84.5],[-11.5,-85.5],[-11,-86.5],[-10.5,-88],[-10,-89],[-9.5,-90],[-9,-91],[-9,-92.5],[-8.5,-94],[-8,-95],[-8,-96.5],[-8,-98],[-8,-99],[-8.5,-100],[-9,-100],[-8.8,-98.5],
  [-8.3,-85],[-8.3,-86],[-6.7,-88.5],[-6.7,-89.5],[-4.8,-87],[-4.8,-88],[-3,-85],[-2.5,-86],[-2,-87],[-2,-88.5],[-1.5,-90],[-1.3,-91],[-1,-92],
  [-9,-102],[-9.5,-102.5],[-8.5,-103],[-8,-102.5],[-7.5,-102],[-6.5,-101.5],[-6.3,-100.5],
  [-4.2,-98],[-4.3,-99.5],[-4,-100.5],[-3.3,-101],[-3,-102],[-2.5,-103],[-2,-103],[-1.5,-102.5],[-1.3,-101.5],[-1.5,-103.5],
  [-12.5,-73],[-12.5,-74.5],
  [-10.5,-71.5],[-10,-70.5],[-9.5,-71.5],[-8.5,-70],[-8,-69.5],[-8,-68],[-7.5,-69],[-7,-70],[-6.5,-71],[-6,-72],[-5.5,-73],[-5,-74],[-4.5,-74],[-4,-75.5],[-3.5,-76],
  [-11.5,-79],[-11.5,-80.5],[-10.5,-78.5],[-10,-78.5],
  [-8.7,-78],[-8,-77],[-7.5,-76],[-7,-75.5],[-6.5,-77],[-6,-78],[-5.5,-78.5],[-5,-79],[-5,-80.5],[-4.5,-78.5],[-4,-77],[-3.5,-77.5],
  [-3,-80],[-2.5,-81],[-2,-81.5],[-1.5,-80],[-1,-79],[-1,-81],[-0.5,-82],[0,-80],[0.3,-78.5],
  [-0.5,-72],[0,-71],[0,-73],[0,-74],[-0.3,-76],[0,-77.5],[0,-83],[-0.3,-84],[-0.5,-85],
  [1.9,-81],[1.9,-82],[2.9,-85],[2.9,-86],
  [3,-81],[3.5,-82],[4.5,-82],[5,-80.5],[4.5,-79],[4,-78],[4.5,-83.5],[4,-84.5],
  [2,-74.5],[2.5,-73.5],[3.5,-75],[3,-76],[4,-75.5],[3.5,-77],
  [2,-66],[3.5,-64],[3.5,-66],[2.7,-68],[2.5,-69],[3.5,-69],[4.5,-68],[5,-66.5],[5,-65],[6,-66],[5.5,-68],[5.5,-70],[4.5,-71],[4,-70],[5,-72],[4.5,-73.5],[3.5,-73],
  [0.5,-66.5],[0.5,-68],[1,-66],[1.5,-65],[2,-64.5],[8.3,-66.5],[8.3,-68],[8,-69.5],[8.5,-67.5],
  [2.2,-60],[3,-60],[4,-60],[4.5,-60.5],[5,-62],[6,-62],[6.5,-63.5],[7,-62.5],[7.5,-62],[8,-61],[8,-60],[7.8,-63],[7.5,-64],
  [-5.5,-63],[-5.3,-62],[-4.5,-62],[-3.5,-61.5],[-3,-62],[-2.5,-63],[-2,-61],[-1,-60],[-0.5,-59.5],[0,-60],[0,-61],[0,-62.5],[0.3,-63.5],[-2.5,-64],[0.3,-65],
  [-14,-65],[-14,-67],[-13.5,-68],[-13.5,-64],[-13,-66],[-12,-66],[-11,-66],[-10,-65.5],[-9.5,-64],[-9,-64.5],[-9.5,-66.5],[-9.5,-68],
  [6,-76],[6.5,-77],[7,-77],[7.5,-78],[8,-78],[6.5,-78.5],[7,-79],[9.5,-74],[10,-74.5],[11,-75],[12,-75],[12.5,-76],[12,-77],[13,-77],[13.5,-76],[14,-75],[14.2,-74.5],[11,-76.5],[10.5,-75.5],
  [-15.5,-40.5],[-15,-41],[-14.5,-42.5],[-14,-43.5],[-14.2,-45],[-13.7,-47],[-13,-44.5],[-12.8,-46],[-12.7,-48],[-12,-46],
  [-12.5,-46],[-12,-47.5],[-12,-49],[-10.5,-45.5],[-10,-46.5],[-10,-48],[-9.5,-48.5],[-9,-48],
  [-9.5,-49.5],[-8.5,-50],[-8,-49],[-7.5,-47.5],[-7,-47.5],[-6.5,-48.5],[-6,-49],[-5.5,-49],[-5,-48],[-5,-49.5],[-8,-50],
  [-3.5,-48.5],[-3,-48.5],[-2,-48.5],[-1,-48],[0,-48.5],[0.2,-50],[-3.5,-50],[-2.5,-50.5],[-1.5,-50],[-3,-52],[-1.3,-52],[-1,-53],[0,-51.5],[0.2,-53],[0.5,-54],[0.5,-55.5],
  [-11.5,-54],[-10.5,-54],[-10,-53],[-10,-55],[-9.5,-52],[-9.5,-53.5],[-9.7,-55.5],
  [-7.5,-51],[-7.5,-52.5],[-6.5,-52],[-6,-52],[-5.5,-52],[-4.5,-52.5],[-4,-53],[-4.5,-54],
  [-6.8,-55.5],[-6,-54.5],[-5.5,-55.5],[-5,-56],[-5.8,-57],
];

const pointsD = [
  [-4.3,96],[-3.5,95.5],[-2.8,95.5],[-2,95.5],[-1.2,96],[-0.4,96],[0.4,96.5],[1,97],[1.6,97.5],[1.3,96],[-3,94],[-2.5,93],[-1.8,92.5],[-0.9,92],[-0.5,93],[0.7,90],[1,88.8],[1.4,87.5],[1.6,86.8],[2.4,87.5],[3,87.8],[3.7,87.6],[1.3,87],[-3.5,95],[-2.5,94.5],
  [15.2,88.5],[15,90.3],[15.6,91.7],[16.7,92.9],[17.5,93],[18.3,93.2],[19.5,93.2],[19.6,91.8],[19.5,90.4],[18.3,89.7],[17.6,88.7],[17.5,87.3],[17.5,85.8],[18.2,87],[19,86.5],[20,85.7],[21,85],[21.6,84],[19.3,84.5],[20.3,84],
  [35.2,84.7],[36,83.7],[36.8,84],[37.5,83],[38.3,82.5],[39,82.5],[39.6,82],[40.2,81.5],
  [25.3,82.2],[25.5,81],[25.7,80],[26.9,80.8],[25.4,79.5],
  [29,78],[29,76.8],[29.2,75.5],[29.4,74.5],
  [30.8,73],[31.5,74.5],[32.5,75],[33.3,75],[34,74.5],[31,72],[30.3,71.5],[30,70.5],[35.5,73],[36.3,74],[36.3,72],[35.5,71.5],[32,71],[32.2,69.8],[32.5,68.5],[36.5,70.8],[36.8,69.8],[37,68.8],[35.2,67.5],[35.2,66],
  [39.3,74.5],[39.3,73],[40.3,71.5],[40.8,70],[41.2,69.3],[39.8,68.2],[40.7,65.8],[41,64.8],[41.8,64.5],[42.5,63.8],[43,63],
  [8.2,76.5],[8.2,75.3],[7.8,73.3],[8.5,73],[9.3,73.2],[10,72.8],[10.8,73.2],[10.8,71.5],[11,70.3],[11.8,70],[12.5,71],[12.3,69.8],[11.8,69.5],[15,71],[14.7,70],[14.3,69],[14,68],[8.2,68],
  [17.6,73.5],[17.8,75],[18.3,76],[19,77],[19.4,75.5],[20.5,74.5],[21,73.8],[21.6,75],[22.2,76.5],[22.4,75.5],
  [25.8,75.5],[25.2,74.5],[24.3,73.5],[23.5,72.7],[22.5,72],[22.3,70.7],[22.7,69.5],[22.7,68.2],[22.2,67.3],[22,66],[22.9,65.5],[23.5,64.7],[24.2,63.8],[24.3,62.8],
  [-19.3,77],[-18.7,76.5],[-18,76.3],[-17.2,76.3],[-16.4,76],[-15.6,76.5],[-15,76],[-14,75.5],[-13.3,75],
  [-18.9,74],[-18.7,72.5],[-18.3,71],[-18,69.5],[-17.7,68],[-18.5,67],[-17.7,66.7],[-16.8,67],[-16.2,66.3],[-18,65.5],[-17.7,64.2],[-17.2,63.5],[-17,62.5],[-17,61.5],
  [-14,64.5],[-14,63],[-12.2,65.5],[-12.2,64],
  [-9.2,73],[-8.5,72.5],[-7.8,73.3],[-7.2,74],[-7,72.5],[-6.6,71],[-6.3,69.7],[-5.8,72.5],[-5,72],[-4.5,71],[-4,70],[-3.7,68.5],[-3.3,67.5],[-3.2,66],[-3.6,65],[-4.3,66],[-5.5,68.5],
  [-2.2,64],[-1.3,63],[-0.5,62.5],[0.2,63],[0.7,63.2],[-1,62],[-2.5,63],[-3,63.5],
  [2.8,63.5],[3.5,64],[4.5,64.3],[5.3,64.8],[6.2,65],[7,65.2],[8,65.2],[9,64.7],[10,64.2],[10.8,63.7],[11.8,63],[12.6,62.5],[13.5,62],[14.5,61.5],[15.5,61],[16.5,60.2],[17.3,59.6],[18,59],[19,58.3],[20,57.5],[20.6,57],
  [2.6,62.3],[3.5,61.5],[4.2,61.2],[2.5,60.4],[2.4,59.2],[2.9,58],[3.4,56.8],[4,55.5],[4.7,54.5],[5.4,53.4],[6.2,52.4],[6.8,51],[7.5,50.5],[8.2,51],[9,51.3],[9.6,53.4],[9.6,52.5],
  [-6.3,60.7],[-6.6,59],[-6.9,57.5],[-6.9,56],[-7.3,55],[-7.7,53.8],[-8.1,52.5],[-8.6,51],[-9.3,49.5],[-10,48.5],[-10.7,49.8],[-11.5,50.3],[-12.5,50.5],[-13.5,51],[-14.3,51],[-14.2,50],[-14.8,48.7],[-15,47.5],[-14.8,46.5],[-15.3,45],[-16,44],[-16.2,43],[-16.3,42],[-15.3,42],[-14.5,42.2],[-13.8,42],[-13,42],[-12.5,42],
  [-13.3,60],[-13.3,58.8],[-16.6,57.5],[-16.8,56],[-17.4,54.5],[-16.6,54.8],[-15.8,54.2],[-17.2,53],[-17.2,51.5],
  [-13.4,55.5],[-13,54],[-12.5,52.8],[-11.4,55],[-11.3,53.5],[-11.5,52.3],
  [-6.8,50],[-6.3,48.5],[-6.2,47],[-2.4,48],[-2.7,46.5],[-3.2,45],[-4.8,46.8],[-4.3,45.5],[-3.7,44.3],[-3.3,43],[-3.1,41.8],[-6,41],[-6,40],
  [14.8,41],[15.5,41],[16.2,41],[17,41],
  [19.7,43],[19.7,41.7],[21,42.5],[22,43],[23,44.5],[23.2,43],[23,41.5],[21.5,41.5],[21.2,40],[21.3,38.5],[21.6,37.3],[22.3,36.2],[23,35.7],[24,35],[24.6,34.5],[25.5,35.5],[25.7,33.5],[25.7,32.5],[26.7,36],[26.8,37.5],[27.2,38.5],[27.8,40],[26,41],[26,39.5],[19.5,39],[19.6,37.5],
  [30.6,45.7],[30.5,44.5],[30.5,43.3],[31,42.2],[31.4,41.2],[32,40.2],[32.5,39.5],[33,39],
  [29.5,34],[30.3,33.8],[31,33.7],[31.8,33.7],[32.5,33.8],[33.2,33.5],[34,34],[34.3,35.5],[34.5,37],[35.2,35.5],[35.7,34],[36.5,35],
  [33.4,49],[33.5,47.5],
  [36.5,54],[37.5,53.5],[38,52.5],[37.3,51.7],[38.2,50.8],[39,50],[39.5,49],[40.5,48.8],[41.5,48.5],[42.5,48],[39.6,47.5],[39.8,46.5],[41,47],[42.2,46.5],[42.3,45],[42.3,43.8],[43.5,49],[44.5,48.5],[45.5,48.3],[46.3,47.8],[47,46.7],[47,45.5],[46.3,44.5],[45.7,43.7],[45,43],[44.4,42],[44.3,41],[44,40],[43.8,39],[44.5,39.2],
  [43.9,52],[43.9,50.7],[46,51.5],[46,50.3],
  [34.8,42],[35.7,42.5],[36.5,42.5],[37.3,42.3],[38,41],[38.5,40],[38.8,39],[37.9,38.5],[37.9,37],
  [40,42],[40.8,41.7],[41.8,41],[42.7,41],
  [38.8,35],[39.5,34.7],[40.3,35.3],[41,36],[41.7,37],[42.4,37.3],[43.7,37],[43.8,36],
  [46.8,42],[47.5,42.5],[48,41.5],[47.2,40.5],[48.3,40],[48.7,38.7],[49,37.5],[49.2,36.2],[49.2,35],[48.7,33.8],[48,33.5],[47.5,33.5],[46.8,36.5],[46.8,38],[50.5,42.5],[50.5,41],[50.8,37.5],[50.5,36.5],[50,35],[50,33.8],
  [53.3,37.3],[53.3,36],
  [51.5,47],[52.3,46.5],[53,46],[54,45.5],[55,45.5],[55.8,44.8],[56,43.7],
  [57.8,45.5],[58.5,45],[59.2,44.5],[60,45],[58,43.5],[57.8,42],[57.5,40.8],[56.5,39.5],[55.8,38.8],[55.2,37.5],
  [61.8,44],[62.3,43],[62.7,41.5],[63,40],[63.5,39],[65,39.7],[64.5,38.5],[65.3,37.5],[65.5,36],[62,37.5],[61,36.5],[60.7,38],[59.2,35.5],[59,34],[60,33.5],[61,34.5],[62,35.5],[63,36],[64,35],[63.5,33.5],[62,33.3],[61,33.5],[59,31.5],[58,33],[57.5,31.5],[58,30.5],[59,30],[60,31.5],[61.5,31.5],[62,32],[63.5,32.5],[65,34.5],[65,31],[65,30],[65.2,29.5],
  [60,36],[61,37],[60,35],[62,34],[63,34.5],[61.5,32.5],[60.5,32.5],[59.5,32.5],[58.5,32],[64,37],[63.5,37.5],[64,33.5],
  [56,60],[56.2,58.8],[56.5,58],
  [59.2,57],[59.5,58.5],[60.2,59.5],[61,60.3],[62,61],[63,60.8],[64,60],[64.7,59],[65.3,58],[65.7,57],
  [55,50],[55.8,50.2],[56.5,50.3],[57.3,50.5],[58,50.7],[58.8,51],[59.5,51],[60.3,51.2],[61,51.5],[62,51.7],[63,51.8],[64,52],[65,52.5],[65.7,53],[66.4,53.8],[66.6,54.5],[66.6,53],
  [67.7,48],[68.3,48.8],[69,49],[70,49],[70.7,48.2],[69,47.5],
  [72.3,47],[73,47],[73.8,46.7],[74.5,46.3],[75.3,46],[75.3,45],[74.5,44.5],[73.5,44.5],[72.5,44.7],[71.8,45.3],
  [54,70],[54.8,70.2],[55.5,69.7],[56,68.5],[57,68],[57.5,67],[58,67],[59,66],[60,66.5],[60.5,66],[60,64.5],[59,64],[58.5,63],[57.7,65],[57.5,66],
  [47.1,71],[47.1,70],[47.6,68],[47.7,67],[50.4,69],[50.5,67.5],[51.5,67],
  [51.8,62.5],[51.8,61],[51.8,59.8],[51.5,59],[48.2,62],[49,61.5],[50,61.3],[48.8,60],[46.3,60],[45.5,60],[44.7,60],[47,60],[45.5,59],
  [31.7,63],[31.7,61.5],[33.8,63.5],[33.8,62],[34.5,61],[35.5,60.5],[36.5,60.5],[37,60],[36.5,59],[34,60],[33.5,59],[33.5,57.5],[34,56.7],[34.2,55.5],[33.5,54.7],[33.8,53.5],[34.3,53],
  [31.7,60.5],[30.7,60],[30,59],[29,58],[28.5,57],[28.5,56],[29.5,56.5],[30.5,57],[31.7,59],
  [14.5,52],[14.5,50.5],[15.5,52],[16.2,51.5],[16.5,50],[17,52],[17.5,51],[18,50],[18.8,50.5],[19,52],[19.5,53.5],[20,51],[20.5,50],[19,49],[17.5,49],[16.5,48.5],[17.5,48.3],
  [21.8,52.8],[22.7,53.5],[23.5,53],[23,52],[24.7,52.5],[25.5,53],[26,54],[26,52.5],[25.3,51],[25.3,49.8],[22.5,48.5],[23.3,48.8],[24,48.5],[24.8,48.5],[25.5,48],[26,47.5],
  [4,33.5],[4.3,32.3],[5,32],[5.8,31.5],[7,31],[6.5,30],[5.5,30],[4.5,29.5],[3.7,28.5],[3,27.5],[2.8,26.5],[2.5,25.5],[2.2,24.5],[1.5,24],[0.7,24],[0,24.5],[0,23.5],[1,23],
  [8,26],[8.8,25.5],[9.5,25.2],[10.5,24.5],[11.3,24],[12,23.8],[13,23.3],[14,23],[14.8,22.5],[14.9,23],
  [-23.8,38],[-23.8,36.6],
];

const seriesPoints = [pointsA, pointsB, pointsC, pointsD];

const fontFamily = "'DejaVu Sans'";
const toMinus = (v: number) => String(v).replace("-", "\u2212");

// axes box spine and matplotlib style legend, neither of which chart.js has
const framePlugin = {
  id: "frame",
  afterDraw(chart: any) {
    const { ctx, chartArea: a } = chart;
    ctx.save();
    ctx.strokeStyle = "#000";
    ctx.lineWidth = 2;
    ctx.strokeRect(a.left, a.top, a.right - a.left, a.bottom - a.top);

    ctx.beginPath();
    ctx.roundRect(347, 146, 298, 423, 14);
    ctx.fillStyle = "rgba(255,255,255,0.8)";
    ctx.fill();
    ctx.strokeStyle = "rgba(204,204,204,0.85)";
    ctx.lineWidth = 3;
    ctx.stroke();

    ctx.font = `69px ${fontFamily}`;
    ctx.textBaseline = "alphabetic";
    seriesNames.forEach((name, i) => {
      ctx.beginPath();
      ctx.arc(442, 208 + i * 100.6, 8.5, 0, Math.PI * 2);
      ctx.fillStyle = seriesColors[i];
      ctx.fill();
      ctx.fillStyle = "#000";
      ctx.fillText(name, 565, 225 + i * 100.6);
    });
    ctx.restore();
  },
};

export default function App() {
  const canvasRef = useRef<HTMLCanvasElement | null>(null);

  useEffect(() => {
    if (!canvasRef.current) return;
    const chart = new Chart(canvasRef.current, {
      type: "scatter",
      data: {
        datasets: seriesNames.map((name, i) => ({
          label: name,
          data: seriesPoints[i].map(([x, y]) => ({ x, y })),
          backgroundColor: seriesColors[i],
          borderWidth: 0,
          pointRadius: 9.5,
          pointHoverRadius: 9.5,
        })),
      },
      options: {
        responsive: false,
        animation: false,
        devicePixelRatio: 1,
        events: [],
        layout: { padding: { left: 0, right: 50, top: 0, bottom: 0 } },
        plugins: {
          legend: { display: false },
          tooltip: { enabled: false },
          title: {
            display: true,
            text: "t-SNE mapping for the Alltogether  classifier",
            fullSize: false,
            color: "#000",
            font: { family: fontFamily, size: 68.7, weight: "normal", lineHeight: 0.9 },
            padding: { top: 49.4, bottom: 0.8 },
          },
        },
        scales: {
          x: {
            type: "linear",
            min: -109.54,
            max: 94.76,
            afterFit: (scale: any) => {
              scale.height = 185;
            },
            afterBuildTicks: (scale: any) => {
              scale.ticks = xTickValues.map((value) => ({ value }));
            },
            grid: { color: "#b0b0b0", lineWidth: 2, z: 1, tickColor: "#000", tickLength: 8, tickWidth: 2 },
            border: { display: false },
            ticks: {
              color: "#000",
              padding: 0,
              maxRotation: 0,
              autoSkip: false,
              font: { family: fontFamily, size: 69.5 },
              callback: (v: any) => toMinus(v),
            },
            title: {
              display: true,
              text: "Feature 1",
              color: "#000",
              font: { family: fontFamily, size: 70 },
              padding: { top: 0, bottom: 24 },
            },
          },
          y: {
            type: "linear",
            min: -113.6,
            max: 108.25,
            afterFit: (scale: any) => {
              scale.width = 312;
            },
            afterBuildTicks: (scale: any) => {
              scale.ticks = yTickValues.map((value) => ({ value }));
            },
            grid: { color: "#b0b0b0", lineWidth: 2, z: 1, tickColor: "#000", tickLength: 8, tickWidth: 2 },
            border: { display: false },
            ticks: {
              color: "#000",
              padding: 10,
              labelOffset: 9,
              autoSkip: false,
              font: { family: fontFamily, size: 69.5 },
              callback: (v: any) => toMinus(v),
            },
            title: {
              display: true,
              text: "Feature 2",
              color: "#000",
              font: { family: fontFamily, size: 70 },
              padding: { top: 25, bottom: 0 },
            },
          },
        },
      },
      plugins: [framePlugin],
    });
    return () => chart.destroy();
  }, []);

  return (
    <div style={{ position: "absolute", left: 0, top: 0, width: 3317, height: 1667, background: "#fff" }}>
      <canvas ref={canvasRef} width={3317} height={1667} style={{ display: "block" }} />
    </div>
  );
}
